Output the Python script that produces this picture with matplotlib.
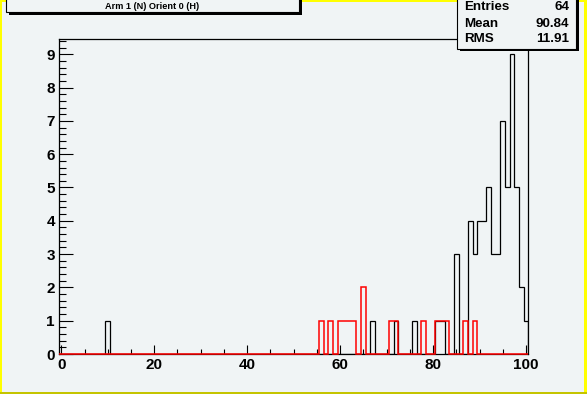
"""
ROOT-style histogram: Arm 1 (N) Orient 0 (H)
"""

import numpy as np
import matplotlib
matplotlib.use("Agg")
import matplotlib.pyplot as plt
from matplotlib.patches import Rectangle

# bin centres run 0..100, width 1
bin_lo, bin_hi = -0.5, 100.5

black_bins = [10, 67, 72, 76, 81, 82, 85, 88, 89, 90, 91, 92, 93, 94, 95, 96, 97, 98, 99, 100]
black_counts = [1, 1, 1, 1, 1, 1, 3, 4, 3, 4, 4, 5, 3, 3, 7, 5, 9, 5, 2, 1]

red_bins = [56, 58, 60, 61, 62, 63, 65, 71, 72, 78, 81, 82, 83, 87, 89]
red_counts = [1, 1, 1, 1, 1, 1, 2, 1, 1, 1, 1, 1, 1, 1, 1]

title = "Arm 1 (N) Orient 0 (H)"
stat_names = ["Entries", "Mean", "RMS"]
stat_values = ["64", "90.84", "11.91"]

W, H = 587, 394
BG = "#f0f4f5"
FONT = "Liberation Sans"


def px(x0, y0, x1, y1):
    # pixel box (top-left origin) -> figure fraction rect
    return (x0 / W, 1 - y1 / H, (x1 - x0) / W, (y1 - y0) / H)


def filled(bins, counts):
    h = np.zeros(101)
    for b, c in zip(bins, counts):
        h[b] = c
    return h


edges = np.arange(bin_lo, bin_hi + 0.5, 1.0)
h_black = filled(black_bins, black_counts)
h_red = filled(red_bins, red_counts)

fig = plt.figure(figsize=(W / 100, H / 100), dpi=100, facecolor=BG)

# canvas border
for rect, col in [(px(0, 0, W, 2), "#ffff00"), (px(0, 0, 2, H), "#ffff00"),
                  (px(W - 3, 0, W, H), "#ffff00"), (px(0, H - 2, W, H), "#c4c400")]:
    fig.patches.append(Rectangle(rect[:2], rect[2], rect[3], transform=fig.transFigure,
                                 facecolor=col, edgecolor="none", zorder=0))

ax = fig.add_axes(px(59, 39.3, 528.3, 354))
ax.set_facecolor(BG)

ax.stairs(h_black, edges, color="black", linewidth=0.9, zorder=2)
ax.stairs(h_red, edges, color="red", linewidth=1.1, zorder=3, clip_on=False)

ax.set_xlim(bin_lo, bin_hi)
ax.set_ylim(0, 9.45)

ax.set_xticks(np.arange(0, 101, 20))
ax.set_xticks(np.arange(0, 101, 5), minor=True)
ax.set_yticks(np.arange(0, 10, 1))
ax.set_yticks(np.arange(0, 9.45, 0.2), minor=True)

ax.tick_params(axis="x", which="major", direction="in", length=6.5, width=0.8, pad=3)
ax.tick_params(axis="x", which="minor", direction="in", length=3.4, width=0.8)
ax.tick_params(axis="y", which="major", direction="in", length=10, width=0.8, pad=3)
ax.tick_params(axis="y", which="minor", direction="in", length=5, width=0.8)

for lab in ax.get_xticklabels() + ax.get_yticklabels():
    lab.set_fontfamily(FONT)
    lab.set_fontweight("bold")
    lab.set_fontsize(11)

for sp in ax.spines.values():
    sp.set_linewidth(0.9)

# title box with shadow
sh = px(8.5, -5, 301.5, 14.5)
fig.patches.append(Rectangle(sh[:2], sh[2], sh[3], transform=fig.transFigure,
                             facecolor="black", edgecolor="none", zorder=5))
tb = px(6, -5, 299, 12.3)
fig.patches.append(Rectangle(tb[:2], tb[2], tb[3], transform=fig.transFigure,
                             facecolor=BG, edgecolor="black", linewidth=0.8, zorder=6))
fig.text(152.5 / W, 1 - 6.7 / H, title, ha="center", va="center", fontsize=6.6,
         fontweight="bold", fontfamily=FONT, zorder=7)

# stats box with shadow
sh = px(460, -5, 578.7, 51)
fig.patches.append(Rectangle(sh[:2], sh[2], sh[3], transform=fig.transFigure,
                             facecolor="black", edgecolor="none", zorder=5))
sb = px(457.3, -5, 576, 49.3)
fig.patches.append(Rectangle(sb[:2], sb[2], sb[3], transform=fig.transFigure,
                             facecolor=BG, edgecolor="black", linewidth=0.8, zorder=6))
for row_y, name, val in zip([7.5, 24, 39.5], stat_names, stat_values):
    fig.text(464 / W, 1 - row_y / H, name, ha="left", va="center", fontsize=9.6,
             fontweight="bold", fontfamily=FONT, zorder=7)
    fig.text(569.5 / W, 1 - row_y / H, val, ha="right", va="center", fontsize=9.6,
             fontweight="bold", fontfamily=FONT, zorder=7)

fig.savefig("out.png", dpi=100, facecolor=BG)
